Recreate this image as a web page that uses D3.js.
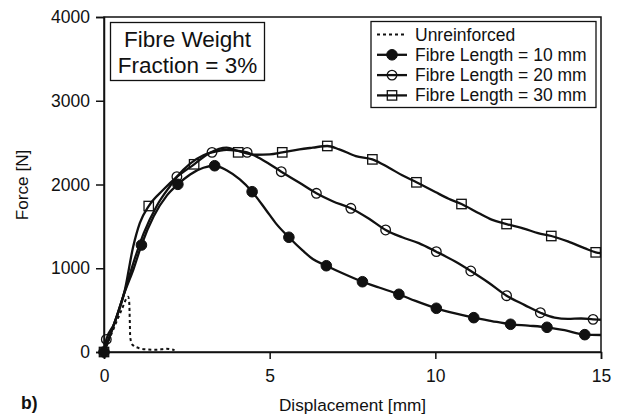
<!DOCTYPE html>
<html><head><meta charset="utf-8">
<script src="https://cdn.jsdelivr.net/npm/d3@7"></script>
<style>
body{margin:0;background:#fff;}
text{font-family:"Liberation Sans",Arial,sans-serif;fill:#111;}
</style></head>
<body><svg id="c" width="620" height="418"></svg>
<script>
// ---- data (Displacement [mm], Force [N]) ----
const xTicks = [0, 5, 10, 15];
const yTicks = [0, 1000, 2000, 3000, 4000];
const seriesNames = ["Unreinforced", "Fibre Length = 10 mm", "Fibre Length = 20 mm", "Fibre Length = 30 mm"];

const unreinforced = [[0,0],[0.27,260],[0.55,520],[0.68,640],[0.73,660],[0.76,600],[0.78,350],[0.79,180],[0.85,90],[1.08,44],[1.3,30],[1.58,26],[1.88,40],[2.13,22]];

const len10 = [[0,0],[0.27,290],[0.63,720],[0.9,1000],[1.13,1277],[1.5,1620],[1.9,1870],[2.23,2002],[2.6,2120],[3.0,2200],[3.34,2224],[3.7,2170],[4.1,2060],[4.47,1914],[4.9,1690],[5.2,1530],[5.58,1370],[6.0,1210],[6.3,1110],[6.71,1030],[7.2,940],[7.8,839],[8.3,770],[8.9,689],[9.4,610],[10.03,522],[10.6,460],[11.16,410],[11.7,370],[12.27,331],[12.8,315],[13.37,295],[13.9,260],[14.51,207],[15,203]];
const len10Markers = [[0,0],[1.13,1277],[2.23,2002],[3.34,2224],[4.47,1914],[5.58,1370],[6.71,1030],[7.8,839],[8.9,689],[10.03,522],[11.16,410],[12.27,331],[13.37,295],[14.51,207]];

const len20 = [[0,0],[0.07,150],[0.3,330],[0.63,730],[0.9,1080],[1.2,1420],[1.6,1750],[2.0,1985],[2.2,2093],[2.6,2250],[3.0,2350],[3.26,2384],[3.7,2415],[4.0,2405],[4.32,2384],[4.8,2290],[5.35,2153],[5.9,2020],[6.41,1895],[6.9,1800],[7.45,1716],[8.0,1590],[8.5,1457],[9.0,1370],[9.5,1300],[10.03,1198],[10.6,1080],[11.07,967],[11.6,830],[12.15,672],[12.7,560],[13.17,469],[13.6,410],[14.0,395],[14.4,400],[14.76,390],[15,385]];
const len20Markers = [[0.07,150],[2.2,2093],[3.26,2384],[4.32,2384],[5.35,2153],[6.41,1895],[7.45,1716],[8.5,1457],[10.03,1198],[11.07,967],[12.15,672],[13.17,469],[14.76,390]];

const len30 = [[0,0],[0.27,300],[0.63,740],[0.88,1257],[1.08,1540],[1.35,1743],[1.78,1934],[2.2,2090],[2.72,2241],[3.2,2380],[3.7,2440],[4.05,2400],[4.6,2355],[5.0,2360],[5.38,2384],[5.9,2420],[6.3,2440],[6.74,2460],[7.1,2420],[7.6,2340],[8.1,2300],[8.6,2200],[9.0,2110],[9.43,2026],[10.0,1910],[10.4,1830],[10.79,1767],[11.3,1660],[11.7,1580],[12.15,1528],[12.7,1470],[13.1,1420],[13.5,1385],[14.0,1320],[14.5,1240],[14.84,1190],[15,1180]];
const len30Markers = [[0,0],[1.35,1743],[2.72,2241],[4.05,2384],[5.38,2384],[6.74,2460],[8.1,2300],[9.43,2026],[10.79,1767],[12.15,1528],[13.5,1385],[14.84,1190]];

// ---- layout ----
const svg = d3.select("#c");
const L = 104, R = 601, T = 17, B = 352;
const x = d3.scaleLinear().domain([0, 15]).range([L, R]);
const y = d3.scaleLinear().domain([0, 4000]).range([B, T]);

// frame
svg.append("rect").attr("x", L).attr("y", T).attr("width", R - L).attr("height", B - T)
  .attr("fill", "none").attr("stroke", "#111").attr("stroke-width", 1.5);

// axes
const ya = svg.append("g").attr("transform", `translate(${L},0)`)
  .call(d3.axisLeft(y).tickValues(yTicks).tickSize(8).tickPadding(6).tickFormat(d3.format("d")));
const xa = svg.append("g").attr("transform", `translate(0,${B})`)
  .call(d3.axisBottom(x).tickValues(xTicks).tickSize(7).tickPadding(11).tickFormat(d3.format("d")));
[ya, xa].forEach(g => {
  g.select(".domain").attr("stroke", "#111").attr("stroke-width", 1.5);
  g.selectAll(".tick line").attr("stroke", "#111").attr("stroke-width", 1.5);
  g.selectAll(".tick text").attr("font-size", 17.5).attr("fill", "#111")
    .style("font-family", '"Liberation Sans",Arial,sans-serif');
});

// axis titles
svg.append("text").attr("x", (L + R) / 2).attr("y", 411).attr("text-anchor", "middle")
  .attr("font-size", 17.2).text("Displacement [mm]");
svg.append("text").attr("transform", "translate(28,185) rotate(-90)").attr("text-anchor", "middle")
  .attr("font-size", 17.2).text("Force [N]");
svg.append("text").attr("x", 21).attr("y", 409).attr("font-size", 17.5).attr("font-weight", "bold").text("b)");

// curves
const line = d3.line().x(d => x(d[0])).y(d => y(d[1])).curve(d3.curveMonotoneX);
svg.append("path").datum(unreinforced).attr("d", line).attr("fill", "none")
  .attr("stroke", "#111").attr("stroke-width", 2).attr("stroke-dasharray", "3,3");
[len10, len20, len30].forEach(s => {
  svg.append("path").datum(s).attr("d", line).attr("fill", "none")
    .attr("stroke", "#111").attr("stroke-width", 2.3).attr("stroke-linejoin", "round");
});

// markers
function circle(g, cx, cy, filled) {
  g.append("circle").attr("cx", cx).attr("cy", cy).attr("r", filled ? 5.3 : 4.8)
    .attr("fill", filled ? "#111" : "none").attr("stroke", "#111").attr("stroke-width", filled ? 1 : 1.3);
}
function square(g, cx, cy) {
  g.append("rect").attr("x", cx - 4.7).attr("y", cy - 4.7).attr("width", 9.4).attr("height", 9.4)
    .attr("fill", "none").attr("stroke", "#111").attr("stroke-width", 1.3);
}
const mg = svg.append("g");
len10Markers.forEach(d => circle(mg, x(d[0]), y(d[1]), true));
len20Markers.forEach(d => circle(mg, x(d[0]), y(d[1]), false));
len30Markers.forEach(d => square(mg, x(d[0]), y(d[1])));

// text box
const tb = svg.append("g");
tb.append("rect").attr("x", 110.5).attr("y", 22.5).attr("width", 154).attr("height", 58)
  .attr("fill", "#fff").attr("stroke", "#111").attr("stroke-width", 1.3);
tb.append("text").attr("x", 187.5).attr("y", 47).attr("text-anchor", "middle").attr("font-size", 22.5).text("Fibre Weight");
tb.append("text").attr("x", 187.5).attr("y", 73).attr("text-anchor", "middle").attr("font-size", 22.5).text("Fraction = 3%");

// legend
const lg = svg.append("g");
lg.append("rect").attr("x", 371).attr("y", 21.5).attr("width", 225).attr("height", 86)
  .attr("fill", "#fff").attr("stroke", "#111").attr("stroke-width", 1.3);
seriesNames.forEach((name, i) => {
  const cy = 34.5 + i * 20.3;
  const ln = lg.append("line").attr("x1", 377).attr("x2", 407).attr("y1", cy).attr("y2", cy)
    .attr("stroke", "#111");
  if (i === 0) ln.attr("stroke-width", 2).attr("stroke-dasharray", "3,3");
  else ln.attr("stroke-width", 2.3);
  if (i === 1) circle(lg, 392, cy, true);
  if (i === 2) circle(lg, 392, cy, false);
  if (i === 3) square(lg, 392, cy);
  lg.append("text").attr("x", 415).attr("y", cy + 6).attr("font-size", 17.5).text(name);
});
</script></body></html>
